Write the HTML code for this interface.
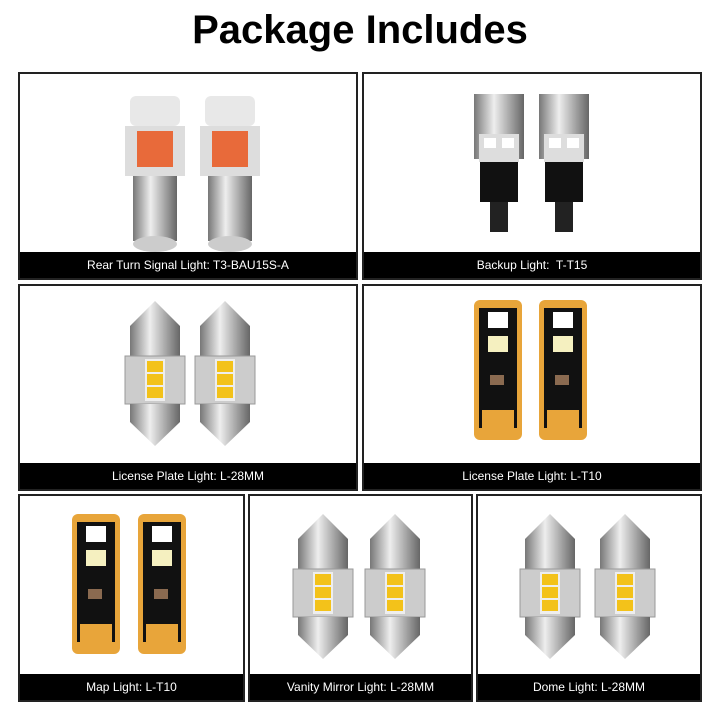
<!DOCTYPE html>
<html><head><style>
body{margin:0;width:720px;height:720px;background:#fff;position:relative;overflow:hidden;font-family:"Liberation Sans",sans-serif}
.t{position:absolute;top:8px;left:0;width:720px;text-align:center;font-weight:bold;font-size:40px;color:#000}
.b{position:absolute;border:2px solid #222;box-sizing:border-box;background:#fff}
.l{position:absolute;left:0;right:0;bottom:0;height:26px;background:#000;color:#fff;font-size:12px;text-align:center;line-height:26px}
svg{position:absolute;left:0;top:0}
</style></head><body>
<svg width="0" height="0"><defs>
<linearGradient id="s" x1="0" x2="1"><stop offset="0" stop-color="#777"/><stop offset=".4" stop-color="#eee"/><stop offset="1" stop-color="#666"/></linearGradient>
<g id="fest"><polygon points="25,0 0,25 50,25" fill="url(#s)"/><rect x="0" y="25" width="50" height="30" fill="url(#s)"/><rect x="-5" y="55" width="60" height="48" fill="#ccc" stroke="#999"/><rect x="15" y="58" width="20" height="42" fill="#eee"/><rect x="17" y="60" width="16" height="11" fill="#f3c21a"/><rect x="17" y="73" width="16" height="11" fill="#f3c21a"/><rect x="17" y="86" width="16" height="11" fill="#f3c21a"/><rect x="0" y="103" width="50" height="18" fill="url(#s)"/><polygon points="0,121 50,121 25,145" fill="url(#s)"/></g>
<g id="t10"><rect x="0" y="0" width="48" height="140" rx="6" fill="#e8a53a"/><rect x="5" y="8" width="38" height="120" fill="#111"/><rect x="14" y="12" width="20" height="16" fill="#fff"/><rect x="14" y="36" width="20" height="16" fill="#f5f0c0"/><rect x="16" y="75" width="14" height="10" fill="#8a6a50"/><rect x="8" y="110" width="32" height="22" fill="#e8a53a"/></g>
<g id="bau"><rect x="5" y="0" width="50" height="30" rx="6" fill="#e8e8e8"/><rect x="0" y="30" width="60" height="50" fill="#ddd"/><rect x="12" y="35" width="36" height="36" fill="#e86a3a"/><rect x="8" y="80" width="44" height="65" fill="url(#s)"/><ellipse cx="30" cy="148" rx="22" ry="8" fill="#ccc"/></g>
<g id="t15"><rect x="0" y="0" width="50" height="65" fill="url(#s)"/><rect x="5" y="40" width="40" height="28" fill="#ddd"/><rect x="10" y="44" width="12" height="10" fill="#fff"/><rect x="28" y="44" width="12" height="10" fill="#fff"/><rect x="6" y="68" width="38" height="40" fill="#111"/><rect x="16" y="108" width="18" height="30" fill="#222"/></g>
</defs></svg>
<div class="t">Package Includes</div>
<div class="b" style="left:18px;top:72px;width:340px;height:208px"><svg width="340" height="208"><use href="#bau" x="105" y="22"/><use href="#bau" x="180" y="22"/></svg><div class="l">Rear Turn Signal Light: T3-BAU15S-A</div></div>
<div class="b" style="left:362px;top:72px;width:340px;height:208px"><svg width="340" height="208"><use href="#t15" x="110" y="20"/><use href="#t15" x="175" y="20"/></svg><div class="l">Backup Light:&nbsp; T-T15</div></div>
<div class="b" style="left:18px;top:284px;width:340px;height:207px"><svg width="340" height="207"><use href="#fest" x="110" y="15"/><use href="#fest" x="180" y="15"/></svg><div class="l">License Plate Light: L-28MM</div></div>
<div class="b" style="left:362px;top:284px;width:340px;height:207px"><svg width="340" height="207"><use href="#t10" x="110" y="14"/><use href="#t10" x="175" y="14"/></svg><div class="l">License Plate Light: L-T10</div></div>
<div class="b" style="left:18px;top:494px;width:227px;height:208px"><svg width="227" height="208"><use href="#t10" x="52" y="18"/><use href="#t10" x="118" y="18"/></svg><div class="l">Map Light: L-T10</div></div>
<div class="b" style="left:248px;top:494px;width:225px;height:208px"><svg width="225" height="208"><use href="#fest" x="48" y="18"/><use href="#fest" x="120" y="18"/></svg><div class="l">Vanity Mirror Light: L-28MM</div></div>
<div class="b" style="left:476px;top:494px;width:226px;height:208px"><svg width="226" height="208"><use href="#fest" x="47" y="18"/><use href="#fest" x="122" y="18"/></svg><div class="l">Dome Light: L-28MM</div></div>
</body></html>
